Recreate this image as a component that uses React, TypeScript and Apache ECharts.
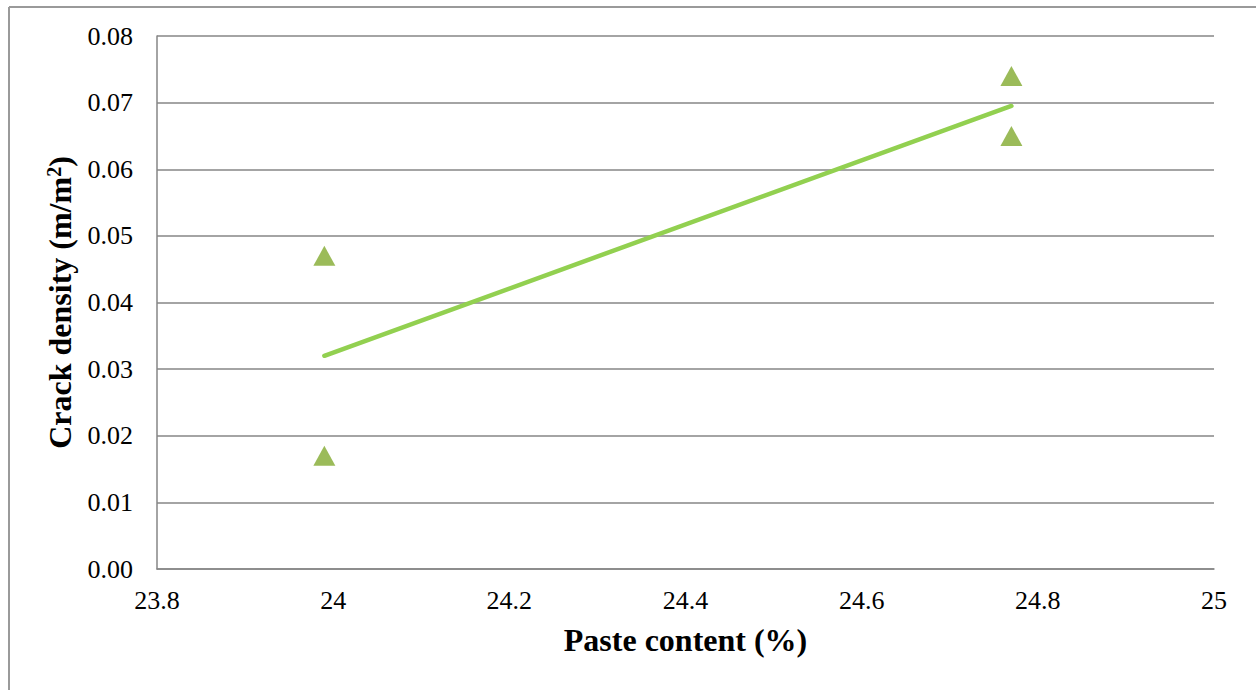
import React, { useEffect, useRef } from "react";
import * as echarts from "echarts";

const pasteContent = [23.99, 23.99, 24.77, 24.77];
const crackDensity = [0.047, 0.017, 0.074, 0.065];
const trendX = [23.99, 24.77];
const trendY = [0.032, 0.0695];
const xTitle = "Paste content (%)";
const yTitle = "Crack density (m/m{sup|2})";

const FONT = "Liberation Serif";

export default function App() {
  const ref = useRef<HTMLDivElement>(null);
  useEffect(() => {
    if (!ref.current) return;
    const chart = echarts.init(ref.current, null, { renderer: "svg" });
    const option = {
      animation: false,
      backgroundColor: "#ffffff",
      textStyle: { fontFamily: FONT },
      grid: { left: 157, right: 42, top: 36, bottom: 121 },
      graphic: [
        { type: "line", shape: { x1: 9, y1: 7, x2: 9, y2: 700 }, style: { stroke: "#9a9a9a", lineWidth: 2 } },
        { type: "line", shape: { x1: 9, y1: 7, x2: 1260, y2: 7 }, style: { stroke: "#9a9a9a", lineWidth: 2 } },
      ],
      xAxis: {
        type: "value",
        min: 23.8,
        max: 25,
        interval: 0.2,
        name: xTitle,
        nameLocation: "middle",
        nameGap: 55,
        nameTextStyle: { fontFamily: FONT, fontSize: 32, fontWeight: "bold", color: "#000" },
        axisLine: { show: true, lineStyle: { color: "#868686", width: 1.5 } },
        axisTick: { show: false },
        splitLine: { show: false },
        axisLabel: {
          fontFamily: FONT,
          fontSize: 26,
          color: "#000",
          margin: 18,
          formatter: (v: number) => String(parseFloat(v.toFixed(1))),
        },
      },
      yAxis: {
        type: "value",
        min: 0,
        max: 0.08,
        interval: 0.01,
        name: yTitle,
        nameLocation: "middle",
        nameGap: 81,
        nameTextStyle: {
          fontFamily: FONT,
          fontSize: 32,
          fontWeight: "bold",
          color: "#000",
          rich: {
            sup: { fontFamily: FONT, fontSize: 20, fontWeight: "bold", color: "#000", verticalAlign: "top", padding: [0, 0, 12, 0] },
          },
        },
        axisLine: { show: true, lineStyle: { color: "#868686", width: 1.5 } },
        axisTick: { show: false },
        splitLine: { show: true, lineStyle: { color: "#868686", width: 1.5 } },
        axisLabel: {
          fontFamily: FONT,
          fontSize: 26,
          color: "#000",
          margin: 24,
          formatter: (v: number) => v.toFixed(2),
        },
      },
      series: [
        {
          type: "line",
          data: trendX.map((x, i) => [x, trendY[i]]),
          symbol: "none",
          lineStyle: { color: "#92D050", width: 4.5, cap: "round" },
          z: 2,
        },
        {
          type: "scatter",
          data: pasteContent.map((x, i) => [x, crackDensity[i]]),
          symbol: "triangle",
          symbolSize: [22, 20],
          itemStyle: { color: "#9BBB59", opacity: 1 },
          z: 3,
        },
      ],
    };
    chart.setOption(option as any);
    return () => chart.dispose();
  }, []);
  return (
    <div
      ref={ref}
      style={{ position: "fixed", left: 0, top: 0, width: 1256, height: 690, background: "#fff" }}
    />
  );
}
